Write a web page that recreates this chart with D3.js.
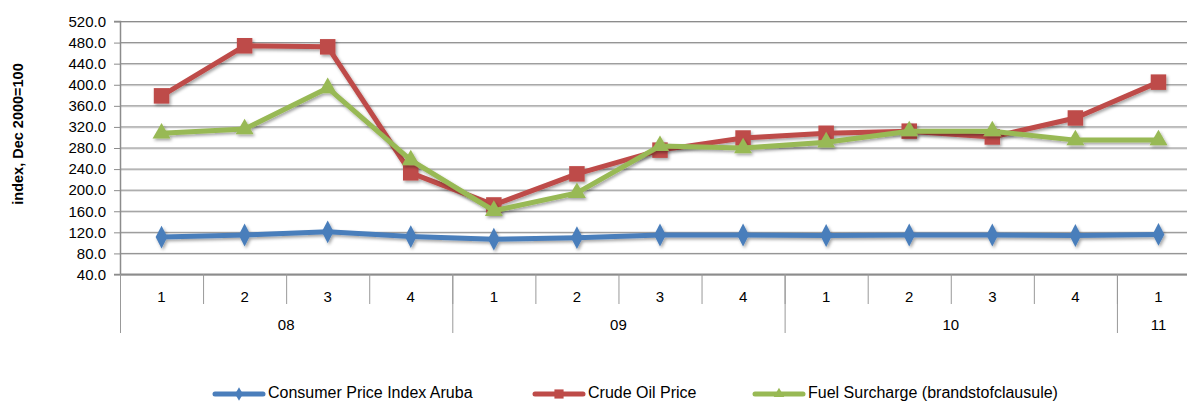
<!DOCTYPE html>
<html><head><meta charset="utf-8">
<script src="https://cdn.jsdelivr.net/npm/d3@7/dist/d3.min.js"></script>
<style>body{margin:0;background:#fff}svg{display:block}text{font-family:"Liberation Sans",Arial,sans-serif;fill:#000}</style>
</head><body>
<svg id="c" width="1187" height="402"></svg>
<script>
const quarters = ["1","2","3","4","1","2","3","4","1","2","3","4","1"];
const years = [{label:"08",n:4},{label:"09",n:4},{label:"10",n:4},{label:"11",n:1}];
const cpi   = [110,114,120,111,106,109,114,114,113,114,114,113,115];
const crude = [378,473,471,232,171,230,275,298,307,311,300,336,404];
const fuel  = [307,315,393,256,160,194,283,279,290,311,311,294,294];
const yTicks = [40,80,120,160,200,240,280,320,360,400,440,480,520];
const seriesNames = ["Consumer Price Index Aruba","Crude Oil Price","Fuel Surcharge (brandstofclausule)"];

const svg = d3.select("#c");
const L=120, R=1200, T=21, B=274;
const x = d3.scaleBand().domain(d3.range(quarters.length)).range([L,R]);
const y = d3.scaleLinear().domain([40,520]).range([B,T]);

const defs = svg.append("defs");
const f = defs.append("filter").attr("id","sh").attr("x","-20%").attr("y","-20%").attr("width","140%").attr("height","140%");
f.append("feDropShadow").attr("dx",1.5).attr("dy",2).attr("stdDeviation",1.5).attr("flood-color","#000").attr("flood-opacity",0.35);

// gridlines
const g = svg.append("g");
yTicks.forEach(v=>{
  g.append("line").attr("x1",L).attr("x2",R).attr("y1",y(v)+1.5).attr("y2",y(v)+1.5).attr("stroke","#d6d6d6").attr("stroke-width",1);
  g.append("line").attr("x1",L).attr("x2",R).attr("y1",y(v)+0.5).attr("y2",y(v)+0.5).attr("stroke","#8c8c8c").attr("stroke-width",1);
});

// y axis
const ya = svg.append("g").attr("transform",`translate(${L},0)`)
  .call(d3.axisLeft(y).tickValues(yTicks).tickFormat(d3.format(".1f")).tickSize(6).tickPadding(8));
ya.select(".domain").attr("stroke","#8c8c8c").attr("stroke-width",1.5);
ya.selectAll(".tick line").attr("stroke","#8c8c8c").attr("transform","translate(0,0.5)");
ya.selectAll(".tick text").attr("font-size",15).attr("fill","#000").attr("dy","0.35em");

// x axis line
svg.append("line").attr("x1",L).attr("x2",R).attr("y1",B+0.5).attr("y2",B+0.5).attr("stroke","#8c8c8c").attr("stroke-width",2);
// quarter separators and labels
quarters.forEach((q,i)=>{
  if(i>0) svg.append("line").attr("x1",x(i)+0.5).attr("x2",x(i)+0.5).attr("y1",B).attr("y2",304).attr("stroke","#999").attr("stroke-width",1);
  svg.append("text").attr("x",x(i)+x.bandwidth()/2).attr("y",302).attr("text-anchor","middle").attr("font-size",15).text(q);
});
let idx=0;
years.forEach(yr=>{
  svg.append("line").attr("x1",x(idx)+0.5).attr("x2",x(idx)+0.5).attr("y1",B).attr("y2",333).attr("stroke","#999").attr("stroke-width",1);
  const cx = (x(idx) + x(idx+yr.n-1)+x.bandwidth())/2;
  svg.append("text").attr("x",cx).attr("y",330).attr("text-anchor","middle").attr("font-size",15).text(yr.label);
  idx+=yr.n;
});

// y label
svg.append("text").attr("transform","translate(23,134) rotate(-90)").attr("text-anchor","middle")
  .attr("font-size",14.5).attr("font-weight","bold").text("index, Dec 2000=100");

const colors = ["#4a7ebb","#be4b48","#98b954"];
const data = [cpi,crude,fuel];
const line = d3.line().x((d,i)=>x(i)+x.bandwidth()/2).y(d=>y(d));
const sym = [d3.symbolDiamond, d3.symbolSquare, d3.symbolTriangle];
const sz = [150,240,140];
data.forEach((s,k)=>{
  const sg = svg.append("g").attr("filter","url(#sh)");
  sg.append("path").attr("d",line(s)).attr("fill","none").attr("stroke",colors[k]).attr("stroke-width",5).attr("stroke-linejoin","round");
  sg.selectAll("path.m").data(s).enter().append("path").attr("class","m")
    .attr("transform",(d,i)=>`translate(${x(i)+x.bandwidth()/2},${y(d)})`+(k===0?" scale(0.9,1)":""))
    .attr("d",d3.symbol().type(sym[k]).size(sz[k])).attr("fill",colors[k]);
});

// legend
const legX = [215,535,755];
seriesNames.forEach((n,k)=>{
  const lg = svg.append("g");
  lg.append("line").attr("x1",legX[k]).attr("x2",legX[k]+48).attr("y1",394).attr("y2",394).attr("stroke",colors[k]).attr("stroke-width",5).attr("stroke-linecap","round");
  lg.append("path").attr("transform",`translate(${legX[k]+24},394)`).attr("d",d3.symbol().type(sym[k]).size(sz[k]*0.35)).attr("fill",colors[k]);
  lg.append("text").attr("x",legX[k]+53).attr("y",398).attr("font-size",16).text(n);
});
</script>
</body></html>
